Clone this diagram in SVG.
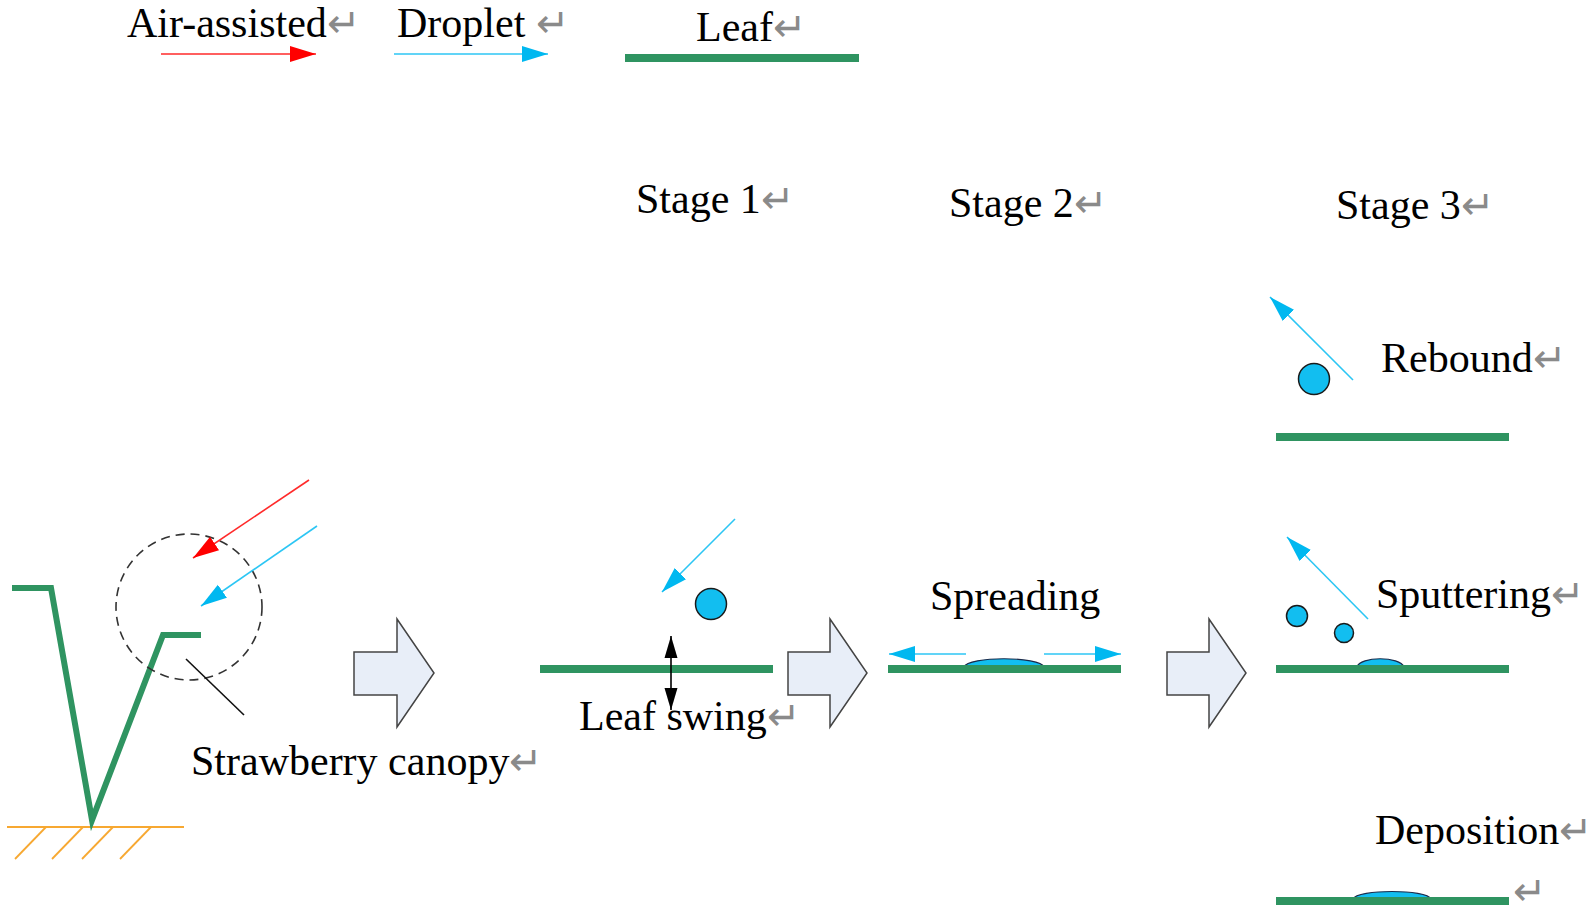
<svg xmlns="http://www.w3.org/2000/svg" width="1595" height="912" viewBox="0 0 1595 912">
<style>
text{font-family:"Liberation Serif","Times New Roman",serif;font-size:42px;fill:#000}
.rt{font-family:"DejaVu Sans",sans-serif;font-size:40px;font-weight:200;fill:#8a8a8a}
.leaf{stroke:#2F9461;stroke-width:8;fill:none}
.red{stroke:#FF2A2A;stroke-width:1.6;fill:none}
.cy{stroke:#2CC6F4;stroke-width:1.6;fill:none}
.blk{fill:#E8EEF8;stroke:#444;stroke-width:1.5}
.drop{fill:#12BEF0;stroke:#1a1a1a;stroke-width:1.5}
.bump{fill:#12BEF0;stroke:#1a2a4a;stroke-width:1.2}
</style>
<defs>
<marker id="hr" markerUnits="userSpaceOnUse" markerWidth="28" markerHeight="20" refX="26" refY="10" orient="auto"><path d="M0,2 L26,10 L0,18 Z" fill="#FF0000"/></marker>
<marker id="hc" markerUnits="userSpaceOnUse" markerWidth="28" markerHeight="20" refX="26" refY="10" orient="auto"><path d="M0,2 L26,10 L0,18 Z" fill="#00B8F0"/></marker>
<marker id="hk" markerUnits="userSpaceOnUse" markerWidth="24" markerHeight="16" refX="22" refY="8" orient="auto-start-reverse"><path d="M0,1.5 L22,8 L0,14.5 Z" fill="#000"/></marker>
</defs>

<g id="legend">
<text x="127" y="37">Air-assisted<tspan class="rt">↵</tspan></text>
<line class="red" x1="161" y1="54" x2="316" y2="54" marker-end="url(#hr)"/>
<text x="397" y="37">Droplet <tspan class="rt">↵</tspan></text>
<line class="cy" x1="394" y1="54" x2="548" y2="54" marker-end="url(#hc)"/>
<text x="696" y="41">Leaf<tspan class="rt">↵</tspan></text>
<line class="leaf" x1="625" y1="58" x2="859" y2="58"/>
</g>

<g id="stage-labels">
<text x="636" y="213">Stage 1<tspan class="rt">↵</tspan></text>
<text x="949" y="217">Stage 2<tspan class="rt">↵</tspan></text>
<text x="1336" y="219">Stage 3<tspan class="rt">↵</tspan></text>
</g>

<g id="canopy">
<line x1="7" y1="827" x2="184" y2="827" stroke="#F7A831" stroke-width="1.8"/>
<g stroke="#F7A831" stroke-width="1.8">
<line x1="15" y1="859" x2="46" y2="827"/>
<line x1="52" y1="859" x2="83" y2="827"/>
<line x1="82" y1="859" x2="113" y2="827"/>
<line x1="120" y1="859" x2="151" y2="827"/>
</g>
<polyline points="12,588 51,588 92,820 163,635 201,635" fill="none" stroke="#2F9461" stroke-width="6" stroke-linejoin="miter"/>
<circle cx="189" cy="607" r="73" fill="none" stroke="#333" stroke-width="1.6" stroke-dasharray="9,6"/>
<line x1="186" y1="659" x2="244" y2="715" stroke="#111" stroke-width="1.6"/>
<line class="red" x1="309" y1="480" x2="193" y2="558" marker-end="url(#hr)"/>
<line class="cy" x1="317" y1="526" x2="201" y2="606" marker-end="url(#hc)"/>
<text x="191" y="775">Strawberry canopy<tspan class="rt">↵</tspan></text>
</g>

<g id="block-arrow-1"><path class="blk" d="M354,652 H397 V619 L434,673 L397,727 V695 H354 Z"/></g>
<g id="block-arrow-2"><path class="blk" d="M788,652 H830 V619 L867,673 L830,727 V695 H788 Z"/></g>
<g id="block-arrow-3"><path class="blk" d="M1167,652 H1209 V619 L1246,673 L1209,727 V695 H1167 Z"/></g>

<g id="stage1">
<line class="cy" x1="735" y1="519" x2="662" y2="592" marker-end="url(#hc)"/>
<circle class="drop" cx="711" cy="604" r="15.5"/>
<line class="leaf" x1="540" y1="669" x2="773" y2="669"/>
<line x1="671" y1="636" x2="671" y2="710" stroke="#000" stroke-width="1.6" marker-start="url(#hk)" marker-end="url(#hk)"/>
<text x="579" y="730">Leaf swing<tspan class="rt">↵</tspan></text>
</g>

<g id="stage2">
<text x="930" y="610">Spreading</text>
<line class="cy" x1="966" y1="654" x2="889" y2="654" marker-end="url(#hc)"/>
<line class="cy" x1="1044" y1="654" x2="1121" y2="654" marker-end="url(#hc)"/>
<path class="bump" d="M964,667 C968,656 1040,656 1044,667 Z"/>
<line class="leaf" x1="888" y1="669" x2="1121" y2="669"/>
</g>

<g id="rebound">
<line class="cy" x1="1353" y1="380" x2="1270" y2="297" marker-end="url(#hc)"/>
<circle class="drop" cx="1314" cy="379" r="15.5"/>
<text x="1381" y="372">Rebound<tspan class="rt">↵</tspan></text>
<line class="leaf" x1="1276" y1="437" x2="1509" y2="437"/>
</g>

<g id="sputtering">
<line class="cy" x1="1368" y1="619" x2="1287" y2="537" marker-end="url(#hc)"/>
<circle class="drop" cx="1297" cy="616" r="10.5"/>
<circle class="drop" cx="1344" cy="633" r="9.5"/>
<text x="1376" y="608">Sputtering<tspan class="rt">↵</tspan></text>
<path class="bump" d="M1357,667 C1360,656 1400,656 1404,667 Z"/>
<line class="leaf" x1="1276" y1="669" x2="1509" y2="669"/>
</g>

<g id="deposition">
<text x="1375" y="844">Deposition<tspan class="rt">↵</tspan></text>
<path class="bump" d="M1353,899 C1357,889 1427,889 1431,899 Z"/>
<line class="leaf" x1="1276" y1="901" x2="1509" y2="901"/>
<text x="1513" y="905" class="rt">↵</text>
</g>
</svg>
